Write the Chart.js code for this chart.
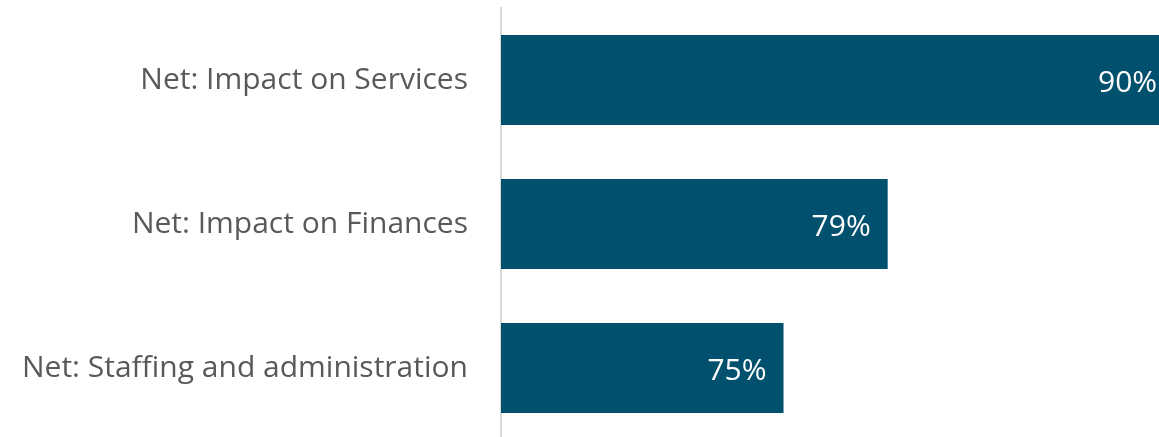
<!DOCTYPE html>
<html>
<head>
<meta charset="utf-8">
<script src="https://cdn.jsdelivr.net/npm/chart.js@4"></script>
<style>
  html, body { margin: 0; padding: 0; background: #fff; overflow: hidden; height: 437px; }
  canvas { display: block; }
</style>
</head>
<body>
<canvas id="chart" width="1159" height="440"></canvas>
<script>
const categories = ['Net: Impact on Services', 'Net: Impact on Finances', 'Net: Staffing and administration']
const values = [90, 79, 75]
const labelFont = '"Open Sans", "Noto Sans", sans-serif'

// white value labels drawn just inside the end of each bar
const valueLabels = {
    id: 'valueLabels',
    afterDatasetsDraw(chart) {
        const ctx = chart.ctx
        const meta = chart.getDatasetMeta(0)
        ctx.save()
        ctx.font = '30px ' + labelFont
        ctx.fillStyle = '#ffffff'
        ctx.textAlign = 'right'
        ctx.textBaseline = 'middle'
        meta.data.forEach((bar, i) => {
            ctx.fillText(values[i] + '%', bar.x - 17, bar.y + 3)
        })
        ctx.restore()
    }
}

const ctx = document.getElementById('chart').getContext('2d')
new Chart(ctx, {
    type: 'bar',
    data: {
        labels: categories,
        datasets: [{
            data: values,
            backgroundColor: '#01506e',
            borderWidth: 0,
            categoryPercentage: 1,
            barPercentage: 0.625
        }]
    },
    options: {
        indexAxis: 'y',
        responsive: false,
        animation: false,
        layout: { padding: { top: 8, bottom: 0, left: 0, right: 0 } },
        plugins: {
            legend: { display: false },
            tooltip: { enabled: false }
        },
        scales: {
            x: {
                display: false,
                min: 64.15,
                max: 89.42
            },
            y: {
                afterFit(scale) {
                    scale.width = 501
                    // tick padding would otherwise also pad top and bottom
                    scale.paddingTop = 0
                    scale.paddingBottom = 0
                },
                grid: { display: false, drawTicks: false },
                border: { display: true, color: '#d9d9d9', width: 2 },
                ticks: {
                    color: '#595959',
                    padding: 33,
                    font: { family: labelFont, size: 30 }
                }
            }
        }
    },
    plugins: [valueLabels]
})
</script>
</body>
</html>
